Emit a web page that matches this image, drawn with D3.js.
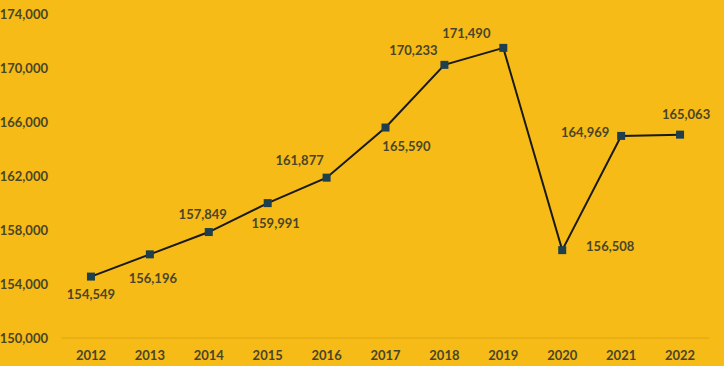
<!DOCTYPE html>
<html><head><meta charset="utf-8">
<script src="https://cdn.jsdelivr.net/npm/d3@7"></script>
<style>html,body{margin:0;padding:0;background:#F6BB17;}svg{display:block;}</style>
</head><body>
<svg id="c" width="724" height="366"></svg>
<script>
const years = ["2012","2013","2014","2015","2016","2017","2018","2019","2020","2021","2022"];
const values = [154549,156196,157849,159991,161877,165590,170233,171490,156508,164969,165063];
const yTicks = [150000,154000,158000,162000,166000,170000,174000];
// label placement relative to point: [dx, dy]
const labelOffsets = [[0,18],[3,24],[-6,-18],[8,20],[-27,-17],[21,19],[-31,-14],[-37,-14],[48,-4],[-36,-3],[6,-20]];

const svg = d3.select("#c");
const x = d3.scaleBand().domain(years).range([61.5,709.5]);
const y = d3.scaleLinear().domain([150000,174000]).range([338,14]);
const fmt = d3.format(",");
const font = "Lato, 'Open Sans', sans-serif";
const txt = "#4a4527";

svg.append("line").attr("x1",61.5).attr("x2",709.5).attr("y1",y(150000)).attr("y2",y(150000))
  .attr("stroke","#dba616").attr("stroke-width",1);

const yAxis = d3.axisLeft(y).tickValues(yTicks).tickFormat(fmt).tickSize(0).tickPadding(0);
const gy = svg.append("g").attr("transform","translate(48,0)").call(yAxis);
gy.select(".domain").remove();
gy.selectAll("text").attr("font-family",font).attr("font-weight","bold").attr("font-size","13px").attr("fill",txt).attr("dy","0.35em");

const xAxis = d3.axisBottom(x).tickSize(0).tickPadding(0);
const gx = svg.append("g").attr("transform","translate(0,355)").call(xAxis);
gx.select(".domain").remove();
gx.selectAll("text").attr("font-family",font).attr("font-weight","bold").attr("font-size","13px").attr("fill",txt).attr("dy","0.35em");

const cx = d => x(d) + x.bandwidth()/2;
const data = years.map((yr,i)=>({yr, v:values[i], off:labelOffsets[i]}));

svg.append("path").datum(data)
  .attr("d", d3.line().x(d=>cx(d.yr)).y(d=>y(d.v)))
  .attr("fill","none").attr("stroke","#1a1a14").attr("stroke-width",2);

svg.selectAll("rect.m").data(data).join("rect").attr("class","m")
  .attr("x",d=>cx(d.yr)-4).attr("y",d=>y(d.v)-4).attr("width",8).attr("height",8)
  .attr("fill","#1d3f4e");

svg.selectAll("text.lbl").data(data).join("text").attr("class","lbl")
  .attr("x",d=>cx(d.yr)+d.off[0]).attr("y",d=>y(d.v)+d.off[1])
  .attr("text-anchor","middle").attr("dy","0.35em")
  .attr("font-family",font).attr("font-weight","bold").attr("font-size","13px").attr("fill",txt)
  .text(d=>fmt(d.v));
</script>
</body></html>
